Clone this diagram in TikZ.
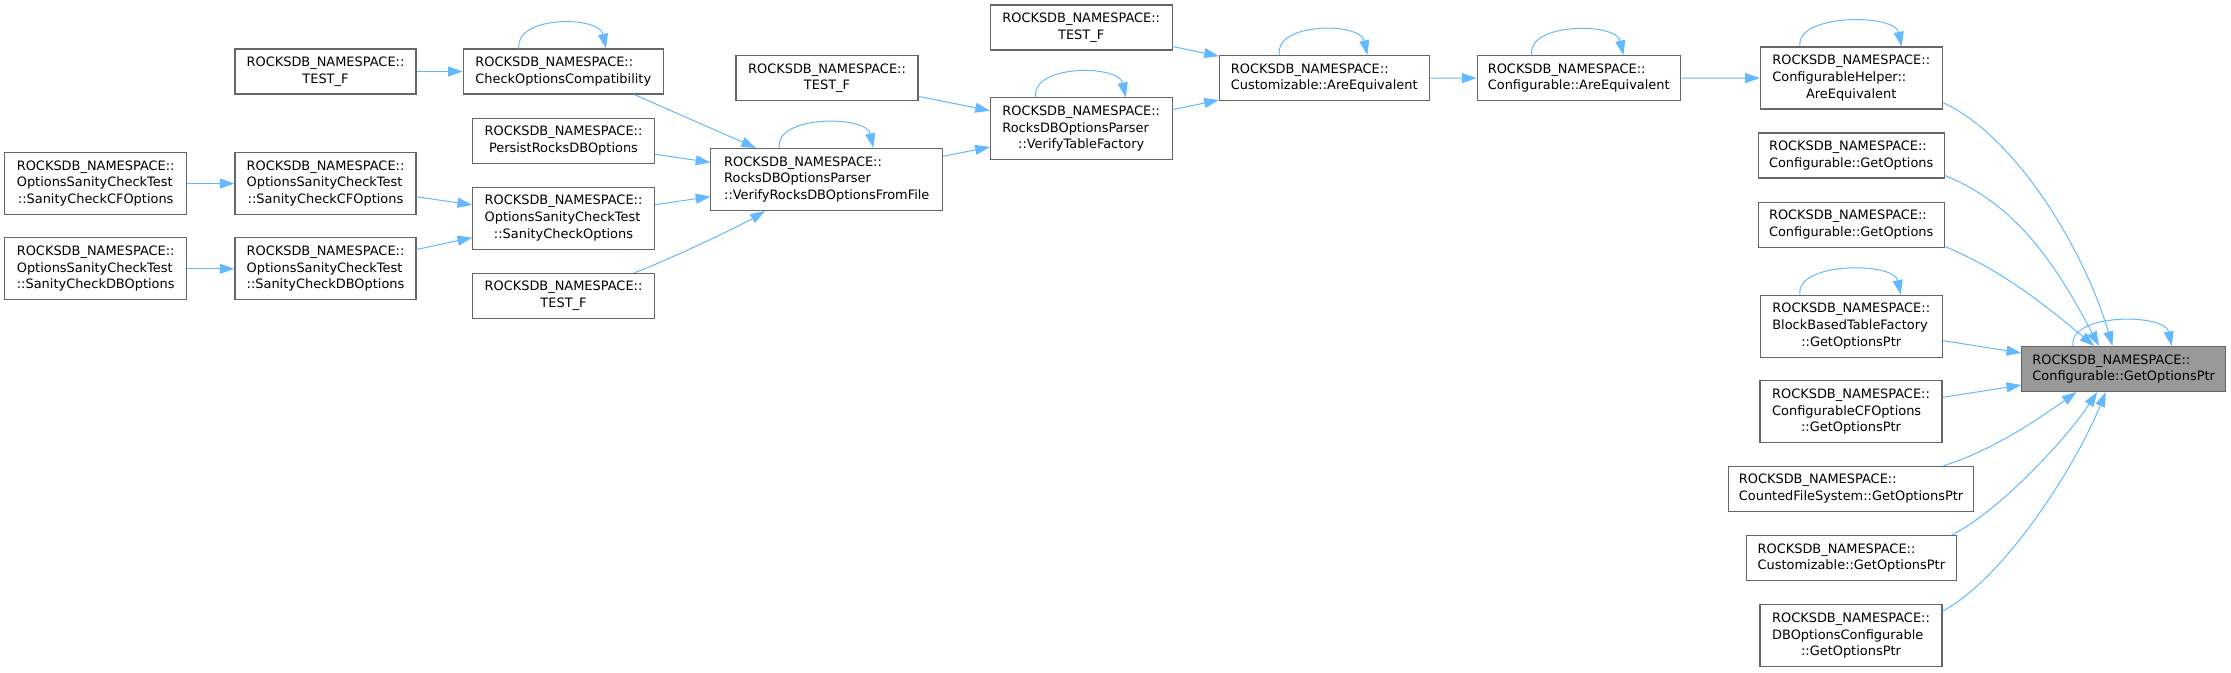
\documentclass[tikz,border=0pt]{standalone}
\usepackage{fontspec}
\setmainfont{DejaVu Sans}
\usetikzlibrary{arrows.meta,calc}
\definecolor{edgeblue}{HTML}{63B8FF}
\definecolor{nodeborder}{HTML}{666666}
\definecolor{mainfill}{HTML}{999999}
\newcommand\rns{ROCKSDB\_NAMESPACE::}
\newcommand\lbl[2]{\begin{tabular}{@{}l@{}}#1\\\multicolumn{1}{@{}c@{}}{#2}\end{tabular}}
\newcommand\selfloop[3]{\draw[edge] ($(#1.north)+(#2,0)$) .. controls +(-5,-33) and +(-7,-33) .. ($(#1.north)+(#3,0)$);}
\begin{document}
\begin{tikzpicture}[x=0.75pt,y=-0.75pt,
  font=\fontsize{9.7pt}{12.5pt}\selectfont,
  fn/.style={draw=nodeborder, line width=0.8pt, fill=white, inner sep=0pt,
    minimum width=#1*0.75pt, minimum height=33.75pt},
  fn3/.style={fn=#1, minimum height=46.5pt},
  root/.style={fn=#1, fill=mainfill},
  edge/.style={draw=edgeblue, line width=0.75pt, -{Triangle[length=11pt,width=7.5pt]}},
]
\path[use as bounding box] (0,0) rectangle (2231,672);

\node[fn=181] (t1) at (325.5,71.5) {\lbl{\rns}{TEST\_F}};
\node[fn=200] (cc) at (563.3,71.5) {\lbl{\rns}{CheckOptionsCompatibility}};
\node[fn3=182] (cf1) at (95.7,183.5) {\lbl{\rns\\OptionsSanityCheckTest}{::SanityCheckCFOptions}};
\node[fn3=181] (cf2) at (325.5,183.5) {\lbl{\rns\\OptionsSanityCheckTest}{::SanityCheckCFOptions}};
\node[fn3=182] (db1) at (95.7,268.8) {\lbl{\rns\\OptionsSanityCheckTest}{::SanityCheckDBOptions}};
\node[fn3=181] (db2) at (325.5,268.8) {\lbl{\rns\\OptionsSanityCheckTest}{::SanityCheckDBOptions}};
\node[fn=181.6] (prs) at (563.5,140.8) {\lbl{\rns}{PersistRocksDBOptions}};
\node[fn3=181.6] (sco) at (563.5,218.2) {\lbl{\rns\\OptionsSanityCheckTest}{::SanityCheckOptions}};
\node[fn=181.6] (t3) at (563.5,295.8) {\lbl{\rns}{TEST\_F}};
\node[fn3=231.7] (vrf) at (826.8,179.5) {\lbl{\rns\\RocksDBOptionsParser}{::VerifyRocksDBOptionsFromFile}};
\node[fn=182] (t4) at (827,78.2) {\lbl{\rns}{TEST\_F}};
\node[fn3=181.7] (vtf) at (1081.2,128.8) {\lbl{\rns\\RocksDBOptionsParser}{::VerifyTableFactory}};
\node[fn=181.7] (t5) at (1081.2,27.5) {\lbl{\rns}{TEST\_F}};
\node[fn=209.7] (cae) at (1324.2,78) {\lbl{\rns}{Customizable::AreEquivalent}};
\node[fn=203.3] (cfae) at (1578.7,78.2) {\lbl{\rns}{Configurable::AreEquivalent}};
\node[fn3=181.7] (che) at (1851.2,78) {\lbl{\rns\\ConfigurableHelper::}{AreEquivalent}};
\node[fn=185.7] (go1) at (1851.2,155.5) {\lbl{\rns}{Configurable::GetOptions}};
\node[fn=185.7] (go2) at (1851.2,224.8) {\lbl{\rns}{Configurable::GetOptions}};
\node[fn3=181.7] (bbt) at (1851.2,326.2) {\lbl{\rns\\BlockBasedTableFactory}{::GetOptionsPtr}};
\node[root=204] (main) at (2123.7,369) {\lbl{\rns}{Configurable::GetOptionsPtr}};
\node[fn3=182] (ccf) at (1851,411.7) {\lbl{\rns\\ConfigurableCFOptions}{::GetOptionsPtr}};
\node[fn=245.2] (cfs) at (1851,488.8) {\lbl{\rns}{CountedFileSystem::GetOptionsPtr}};
\node[fn=210] (cgp) at (1851.35,558.3) {\lbl{\rns}{Customizable::GetOptionsPtr}};
\node[fn3=182] (dbc) at (1851,635.7) {\lbl{\rns\\DBOptionsConfigurable}{::GetOptionsPtr}};

\draw[edge] (t1) -- (cc);
\draw[edge] (cf1) -- (cf2);
\draw[edge] (db1) -- (db2);
\draw[edge] (cf2) -- (sco);
\draw[edge] (db2) -- (sco);
\draw[edge] (cc.-18) -- (vrf.156);
\draw[edge] (prs) -- (vrf);
\draw[edge] (sco) -- (vrf);
\draw[edge] (t3.18) .. controls +(30,-11) and +(-25,15) .. (vrf.207);
\draw[edge] (t4) -- (vtf);
\draw[edge] (vrf) -- (vtf);
\draw[edge] (t5) -- (cae);
\draw[edge] (vtf) -- (cae);
\draw[edge] (cae) -- (cfae);
\draw[edge] (cfae) -- (che);
\draw[edge] (che.-15) .. controls +(73,33) and +(-28,-96) .. (main.116);
\draw[edge] (go1.-12) .. controls +(74,30) and +(-42,-79) .. (main.137);
\draw[edge] (go2.-13) .. controls +(55,23) and +(-54,-45) .. (main.142);
\draw[edge] (bbt) -- (main);
\draw[edge] (ccf) -- (main);
\draw[edge] (cfs.14) .. controls +(48,-15) and +(-41,29) .. (main.206);
\draw[edge] (cgp.13) .. controls +(45,-22) and +(-33,50) .. (main.221);
\draw[edge] (dbc.15) .. controls +(62,-33) and +(-30,74) .. (main.232);

\selfloop{cc}{-44.3}{42.7}
\selfloop{vrf}{-47.5}{46.5}
\selfloop{vtf}{-45.5}{44.5}
\selfloop{cae}{-44.9}{43.1}
\selfloop{cfae}{-47}{44.6}
\selfloop{che}{-51.2}{50.5}
\selfloop{bbt}{-51.2}{49.5}
\selfloop{main}{-50.7}{48}
\end{tikzpicture}
\end{document}
